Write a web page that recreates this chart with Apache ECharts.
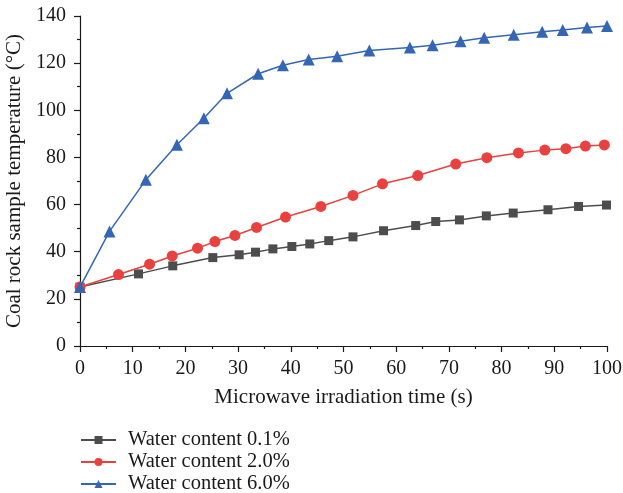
<!DOCTYPE html>
<html>
<head>
<meta charset="utf-8">
<script src="https://cdn.jsdelivr.net/npm/echarts@6/dist/echarts.min.js"></script>
<style>
  html, body { margin: 0; padding: 0; background: #fff; }
  #chart { width: 623px; height: 493px; }
</style>
</head>
<body>
<div id="chart"></div>
<script>
// Heating curves of coal rock samples under microwave irradiation
var seriesNames = ['Water content 0.1%', 'Water content 2.0%', 'Water content 6.0%'];

var timeLow = [0, 11.1, 17.6, 25.2, 30.2, 33.3, 36.6, 40.2, 43.6, 47.2, 51.8, 57.6, 63.7, 67.5, 72.0, 77.1, 82.2, 88.8, 94.6, 99.9];
var tempLow = [25, 30.6, 34.0, 37.5, 38.7, 39.8, 41.2, 42.2, 43.3, 44.7, 46.3, 48.9, 51.1, 52.8, 53.5, 55.2, 56.4, 57.8, 59.2, 59.8];

var timeMid = [0, 7.3, 13.2, 17.5, 22.3, 25.6, 29.4, 33.5, 39.0, 45.7, 51.8, 57.4, 64.1, 71.3, 77.2, 83.2, 88.2, 92.2, 95.9, 99.5];
var tempMid = [25, 30.3, 34.7, 38.2, 41.5, 44.3, 46.9, 50.3, 54.7, 59.2, 63.9, 68.8, 72.3, 77.2, 79.9, 81.9, 83.1, 83.7, 84.8, 85.3];

var timeHigh = [0, 5.6, 12.5, 18.4, 23.5, 27.9, 33.8, 38.5, 43.4, 48.8, 54.9, 62.6, 66.9, 72.2, 76.7, 82.3, 87.7, 91.6, 96.2, 100];
var tempHigh = [25, 48.6, 70.5, 85.4, 96.6, 107.2, 115.5, 119.1, 121.5, 122.9, 125.4, 126.6, 127.6, 129.3, 130.8, 132.0, 133.3, 134.1, 135.1, 135.8];

var colors = ['#4d4d4d', '#e8413f', '#3566b4'];
var symbols = ['rect', 'circle', 'triangle'];
var symbolSizes = [9, 11, 12];

function pairs(xs, ys) {
  return xs.map(function (x, i) { return [x, ys[i]]; });
}

var dataSets = [pairs(timeLow, tempLow), pairs(timeMid, tempMid), pairs(timeHigh, tempHigh)];

var font = 'Liberation Serif';
var ink = '#1a1a1a';

// one legend block per row, stacked under the plot
var legendRows = seriesNames.map(function (name, i) {
  return {
    orient: 'vertical',
    left: 80,
    top: 429 + i * 22,
    padding: 0,
    itemWidth: 35,
    itemHeight: 10,
    data: [name],
    textStyle: { fontFamily: font, fontSize: 20.5, color: ink, padding: [0, 0, 0, 7], lineHeight: 22 }
  };
});

var chart = echarts.init(document.getElementById('chart'), null, { renderer: 'canvas' });

chart.setOption({
  animation: false,
  backgroundColor: '#ffffff',
  color: colors,
  grid: { left: 80, right: 16, top: 16, bottom: 147, containLabel: false, outerBoundsMode: 'none' },
  legend: legendRows,
  xAxis: {
    type: 'value',
    min: 0,
    max: 100,
    interval: 10,
    name: 'Microwave irradiation time (s)',
    nameLocation: 'middle',
    nameGap: 41,
    nameTextStyle: { fontFamily: font, fontSize: 21, color: ink },
    axisLine: { lineStyle: { color: ink, width: 1.2 } },
    axisTick: { show: true, inside: false, length: 6, lineStyle: { color: ink, width: 1.2 } },
    minorTick: { show: true, splitNumber: 2, length: 3, lineStyle: { color: ink, width: 1.2 } },
    axisLabel: { fontFamily: font, fontSize: 20, color: ink, margin: 13 },
    splitLine: { show: false }
  },
  yAxis: {
    type: 'value',
    min: 0,
    max: 140,
    interval: 20,
    name: 'Coal rock sample temperature (°C)',
    nameLocation: 'middle',
    nameGap: 46,
    nameTextStyle: { fontFamily: font, fontSize: 21, color: ink },
    axisLine: { show: true, lineStyle: { color: ink, width: 1.2 } },
    axisTick: { show: true, inside: false, length: 6, lineStyle: { color: ink, width: 1.2 } },
    minorTick: { show: true, splitNumber: 2, length: 3, lineStyle: { color: ink, width: 1.2 } },
    axisLabel: { fontFamily: font, fontSize: 20, color: ink, margin: 14 },
    splitLine: { show: false }
  },
  series: dataSets.map(function (d, i) {
    return {
      name: seriesNames[i],
      type: 'line',
      data: d,
      symbol: symbols[i],
      symbolSize: symbolSizes[i],
      showAllSymbol: true,
      lineStyle: { color: colors[i], width: 1.5 },
      itemStyle: { color: colors[i] },
      z: 2 + i
    };
  })
});
</script>
</body>
</html>
